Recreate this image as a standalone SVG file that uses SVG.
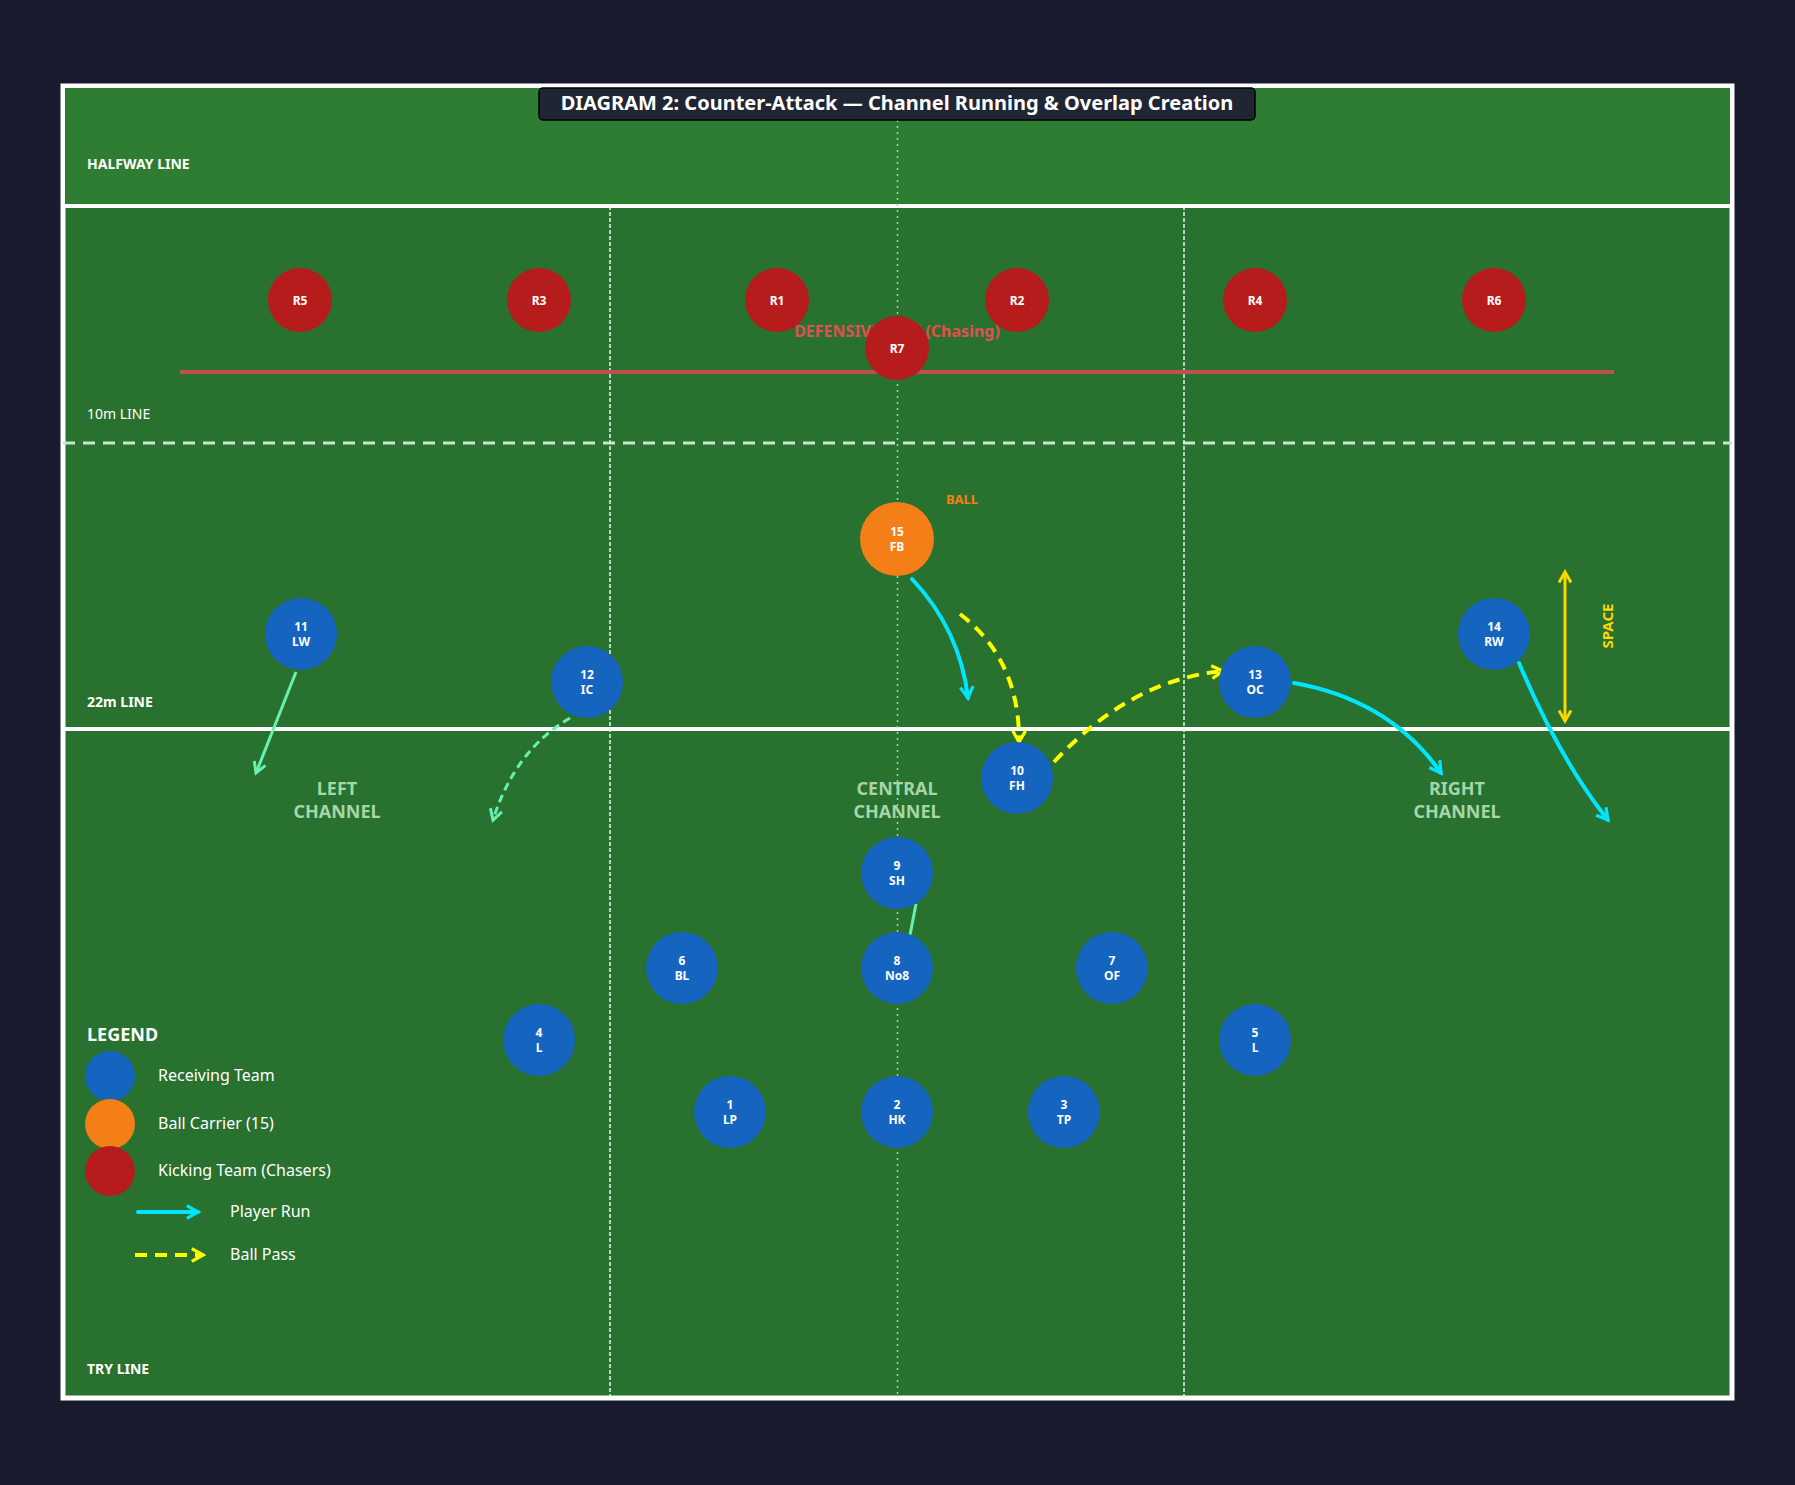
<svg xmlns="http://www.w3.org/2000/svg" width="1795" height="1485" viewBox="0 0 1795 1485">
<defs>
<style>
text{font-family:"Noto Sans","DejaVu Sans",sans-serif}
.pl{fill:#fff;font-size:12px;font-weight:bold;text-anchor:middle}
.blue{fill:#1565c0}.red{fill:#b71c1c}.orange{fill:#f57f17}
.fl{fill:#fff;font-size:14px}
.ch{fill:#a5d6a7;font-size:18px;font-weight:bold;text-anchor:middle}
.run{fill:none;stroke:#00e5ff;stroke-width:4;stroke-linecap:round;marker-end:url(#mc)}
.pass{fill:none;stroke:#ffff00;stroke-width:4;stroke-dasharray:12 8;marker-end:url(#my)}
.sup{fill:none;stroke:#69f0ae;stroke-width:3;marker-end:url(#mg)}
.lg{fill:#fff;font-size:16px}
</style>
<marker id="mc" viewBox="0 0 10 10" refX="8" refY="5" markerWidth="4" markerHeight="4" orient="auto"><path d="M1,1 L8,5 L1,9" fill="none" stroke="#00e5ff" stroke-width="2"/></marker>
<marker id="my" viewBox="0 0 10 10" refX="8" refY="5" markerWidth="4" markerHeight="4" orient="auto"><path d="M1,1 L8,5 L1,9" fill="none" stroke="#ffff00" stroke-width="2"/></marker>
<marker id="mg" viewBox="0 0 10 10" refX="8" refY="5" markerWidth="5" markerHeight="5" orient="auto"><path d="M1,1 L8,5 L1,9" fill="none" stroke="#69f0ae" stroke-width="2"/></marker>
<marker id="ms" viewBox="0 0 10 10" refX="8" refY="5" markerWidth="5" markerHeight="5" orient="auto-start-reverse"><path d="M1,1 L8,5 L1,9" fill="none" stroke="#ffd600" stroke-width="2"/></marker>
</defs>
<rect width="1795" height="1485" fill="#1a1a2e"/>
<g id="field">
<rect x="63" y="86" width="1669" height="1312" fill="#29712f" stroke="#fff" stroke-width="5"/>
<rect x="65" y="88" width="1665" height="118" fill="#2e7d32"/>
<line x1="63" y1="206" x2="1732" y2="206" stroke="#fff" stroke-width="4"/>
<line x1="63" y1="443" x2="1732" y2="443" stroke="#c8e6c9" stroke-width="3" stroke-dasharray="12 8"/>
<line x1="63" y1="729" x2="1732" y2="729" stroke="#fff" stroke-width="4"/>
<line x1="610" y1="206" x2="610" y2="1398" stroke="#e8f5e9" stroke-width="1.5" stroke-dasharray="4 2"/>
<line x1="1184" y1="206" x2="1184" y2="1398" stroke="#e8f5e9" stroke-width="1.5" stroke-dasharray="4 2"/>
<line x1="897.5" y1="120" x2="897.5" y2="1398" stroke="#a5d6a7" stroke-width="1.5" stroke-dasharray="2 4"/>
<text class="fl" x="87" y="169" font-weight="bold" font-size="15">HALFWAY LINE</text>
<text class="fl" x="87" y="419" font-size="13">10m LINE</text>
<text class="fl" x="87" y="707" font-weight="bold">22m LINE</text>
<text class="fl" x="87" y="1374" font-weight="bold">TRY LINE</text>
<text class="ch" x="337" y="795">LEFT</text><text class="ch" x="337" y="818">CHANNEL</text>
<text class="ch" x="897" y="795">CENTRAL</text><text class="ch" x="897" y="818">CHANNEL</text>
<text class="ch" x="1457" y="795">RIGHT</text><text class="ch" x="1457" y="818">CHANNEL</text>
</g>
<g id="title">
<rect x="539" y="88" width="716" height="32" rx="4" fill="#1f2533" stroke="#000" stroke-width="1.5"/>
<text x="897" y="110" fill="#fff" font-size="20" font-weight="bold" text-anchor="middle">DIAGRAM 2: Counter-Attack — Channel Running &amp; Overlap Creation</text>
</g>
<g id="defline">
<line x1="180" y1="372" x2="1614" y2="372" stroke="#c0504d" stroke-width="4"/>
<text x="897" y="337" fill="#e05050" font-size="16" font-weight="bold" text-anchor="middle">DEFENSIVE LINE (Chasing)</text>
</g>
<g id="connectors">
<path class="run" d="M912,579 Q960,630 968,698"/>
<path class="pass" d="M960,614 Q1020,660 1019,742"/>
<path class="pass" d="M1054,762 Q1130,680 1223,671"/>
<path class="run" d="M1294,683 Q1390,700 1441,773"/>
<path class="run" d="M1519,663 Q1560,760 1608,820"/>
<path class="sup" d="M296,672 L256,773"/>
<path class="sup" stroke-dasharray="8 5" d="M570,718 Q515,750 493,820"/>
<line x1="916" y1="904" x2="910" y2="935" stroke="#69f0ae" stroke-width="3"/>
<line x1="1565" y1="572" x2="1565" y2="721" stroke="#ffd600" stroke-width="3" marker-start="url(#ms)" marker-end="url(#ms)"/>
<text x="1613" y="626" fill="#ffd600" font-size="15" font-weight="bold" text-anchor="middle" transform="rotate(-90 1613 626)">SPACE</text>
</g>
<g id="R5"><circle class="red" cx="300" cy="300" r="32"/><text class="pl" x="300" y="305">R5</text></g>
<g id="R3"><circle class="red" cx="539" cy="300" r="32"/><text class="pl" x="539" y="305">R3</text></g>
<g id="R1"><circle class="red" cx="777" cy="300" r="32"/><text class="pl" x="777" y="305">R1</text></g>
<g id="R2"><circle class="red" cx="1017" cy="300" r="32"/><text class="pl" x="1017" y="305">R2</text></g>
<g id="R4"><circle class="red" cx="1255" cy="300" r="32"/><text class="pl" x="1255" y="305">R4</text></g>
<g id="R6"><circle class="red" cx="1494" cy="300" r="32"/><text class="pl" x="1494" y="305">R6</text></g>
<g id="R7"><circle class="red" cx="897" cy="348" r="32"/><text class="pl" x="897" y="353">R7</text></g>
<g id="p15"><circle class="orange" cx="897" cy="539" r="37"/><text class="pl" x="897" y="536">15</text><text class="pl" x="897" y="551">FB</text>
<text x="962" y="504" fill="#f57f17" font-size="13" font-weight="bold" text-anchor="middle">BALL</text></g>
<g id="p11"><circle class="blue" cx="301" cy="634" r="36"/><text class="pl" x="301" y="631">11</text><text class="pl" x="301" y="646">LW</text></g>
<g id="p12"><circle class="blue" cx="587" cy="682" r="36"/><text class="pl" x="587" y="679">12</text><text class="pl" x="587" y="694">IC</text></g>
<g id="p13"><circle class="blue" cx="1255" cy="682" r="36"/><text class="pl" x="1255" y="679">13</text><text class="pl" x="1255" y="694">OC</text></g>
<g id="p14"><circle class="blue" cx="1494" cy="634" r="36"/><text class="pl" x="1494" y="631">14</text><text class="pl" x="1494" y="646">RW</text></g>
<g id="p10"><circle class="blue" cx="1017" cy="778" r="36"/><text class="pl" x="1017" y="775">10</text><text class="pl" x="1017" y="790">FH</text></g>
<g id="p9"><circle class="blue" cx="897" cy="873" r="36"/><text class="pl" x="897" y="870">9</text><text class="pl" x="897" y="885">SH</text></g>
<g id="p6"><circle class="blue" cx="682" cy="968" r="36"/><text class="pl" x="682" y="965">6</text><text class="pl" x="682" y="980">BL</text></g>
<g id="p8"><circle class="blue" cx="897" cy="968" r="36"/><text class="pl" x="897" y="965">8</text><text class="pl" x="897" y="980">No8</text></g>
<g id="p7"><circle class="blue" cx="1112" cy="968" r="36"/><text class="pl" x="1112" y="965">7</text><text class="pl" x="1112" y="980">OF</text></g>
<g id="p4"><circle class="blue" cx="539" cy="1040" r="36"/><text class="pl" x="539" y="1037">4</text><text class="pl" x="539" y="1052">L</text></g>
<g id="p5"><circle class="blue" cx="1255" cy="1040" r="36"/><text class="pl" x="1255" y="1037">5</text><text class="pl" x="1255" y="1052">L</text></g>
<g id="p1"><circle class="blue" cx="730" cy="1112" r="36"/><text class="pl" x="730" y="1109">1</text><text class="pl" x="730" y="1124">LP</text></g>
<g id="p2"><circle class="blue" cx="897" cy="1112" r="36"/><text class="pl" x="897" y="1109">2</text><text class="pl" x="897" y="1124">HK</text></g>
<g id="p3"><circle class="blue" cx="1064" cy="1112" r="36"/><text class="pl" x="1064" y="1109">3</text><text class="pl" x="1064" y="1124">TP</text></g>
<g id="legend">
<text x="87" y="1041" fill="#fff" font-size="18" font-weight="bold">LEGEND</text>
<circle class="blue" cx="110" cy="1076" r="25"/><text class="lg" x="158" y="1081">Receiving Team</text>
<circle class="orange" cx="110" cy="1124" r="25"/><text class="lg" x="158" y="1129">Ball Carrier (15)</text>
<circle class="red" cx="110" cy="1171" r="25"/><text class="lg" x="158" y="1176">Kicking Team (Chasers)</text>
<line x1="138" y1="1212" x2="198" y2="1212" class="run"/><text class="lg" x="230" y="1217">Player Run</text>
<line x1="135" y1="1255" x2="203" y2="1255" class="pass"/><text class="lg" x="230" y="1260">Ball Pass</text>
</g>
</svg>
